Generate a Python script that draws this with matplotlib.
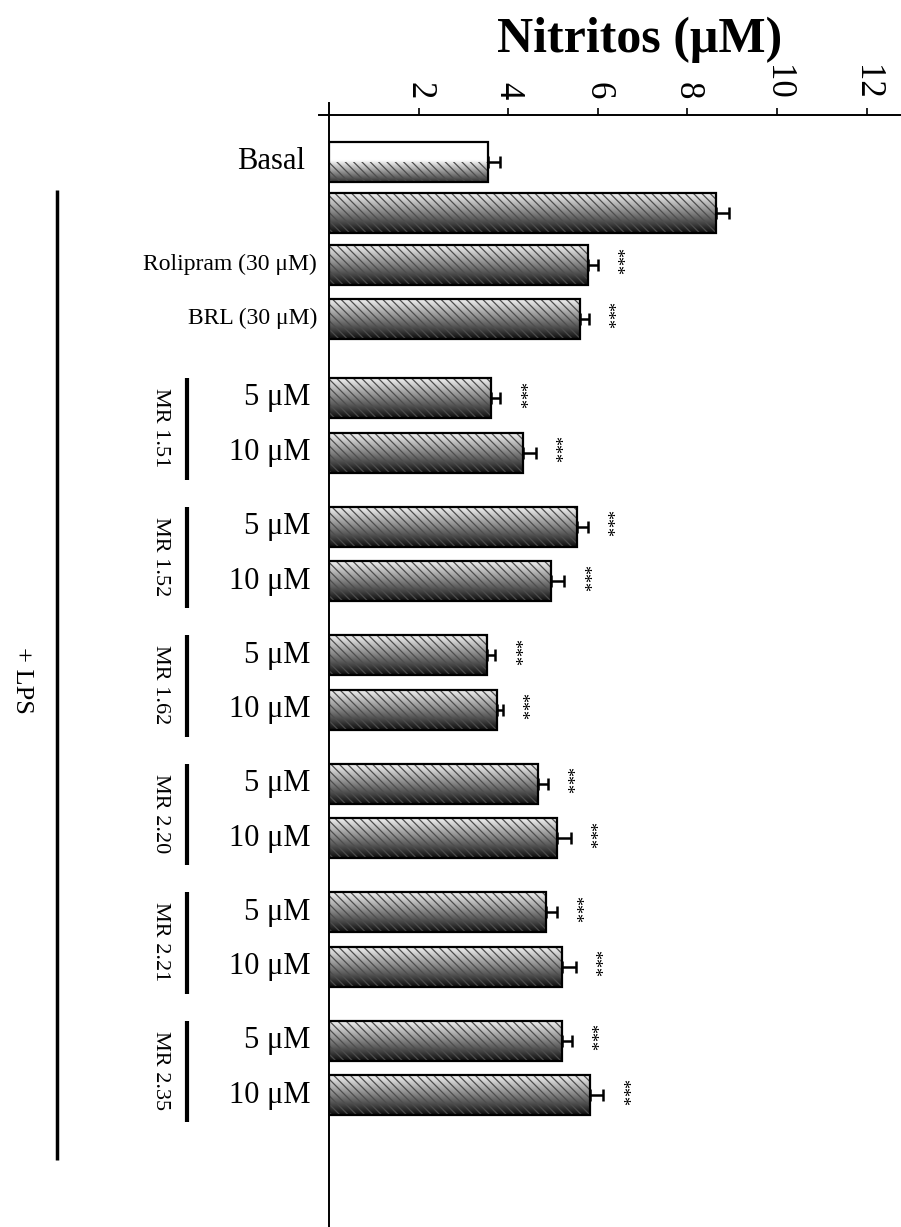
import numpy as np
import matplotlib
matplotlib.use("Agg")
import matplotlib.pyplot as plt
from matplotlib.patches import Rectangle

plt.rcParams["font.family"] = ["Liberation Serif", "DejaVu Serif"]
plt.rcParams["hatch.linewidth"] = 0.9

# Controls (no LPS / LPS / reference inhibitors)
ctrl_labels = ["Basal", "", "Rolipram (30 μM)", "BRL (30 μM)"]
ctrl_values = [3.55, 8.63, 5.78, 5.60]
ctrl_errors = [0.27, 0.30, 0.22, 0.20]
ctrl_sig = ["", "", "***", "***"]

# Compounds, two doses each
compounds = ["MR 1.51", "MR 1.52", "MR 1.62", "MR 2.20", "MR 2.21", "MR 2.35"]
doses = ["5 μM", "10 μM"]
values_5 = [3.62, 5.53, 3.53, 4.67, 4.84, 5.20]
errors_5 = [0.20, 0.25, 0.18, 0.22, 0.25, 0.22]
values_10 = [4.34, 4.96, 3.75, 5.09, 5.20, 5.83]
errors_10 = [0.27, 0.29, 0.13, 0.31, 0.31, 0.29]
comp_sig = "***"

xticks = [2, 4, 6, 8, 10, 12]

# layout of bar slots (rows, top to bottom)
ctrl_pos = [0, 0.95, 1.9, 2.9]
group_start = 4.37
group_step = 2.38
bar_h = 0.74

fig = plt.figure(figsize=(9.01, 12.27), dpi=100)
ax = fig.add_axes([329 / 901, 0, 1 - 329 / 901, 1 - 115 / 1227])
ax.set_xlim(0, (901 - 329) / 44.8)
ax.set_ylim(19.72, -0.87)


def gradient_bar(y, w, light=False):
    # halftone-like fill: light at the top, dark at the bottom
    n = 64
    t = np.linspace(0, 1, n)[:, None]
    if light:
        g = np.where(t < 0.45, 1.0, 1.0 - (t - 0.45) / 0.55 * 0.8)
    else:
        g = 0.95 - t * 0.9
    rect = Rectangle((0, y - bar_h / 2), w, bar_h, facecolor="none",
                     edgecolor="none")
    ax.add_patch(rect)
    im = ax.imshow(np.repeat(g, 2, axis=1), cmap="gray", vmin=0, vmax=1,
                   extent=[0, w, y + bar_h / 2, y - bar_h / 2],
                   aspect="auto", interpolation="bilinear", zorder=2)
    im.set_clip_path(rect)
    if light:
        # hatch only on the lower half
        ax.barh(y + bar_h / 4, w, height=bar_h / 2, left=0, facecolor="none",
                edgecolor="0.3", hatch="\\\\\\\\", linewidth=0, zorder=3)
    else:
        ax.barh(y, w, height=bar_h, left=0, facecolor="none",
                edgecolor="0.3", hatch="\\\\\\\\", linewidth=0, zorder=3)
    ax.barh(y, w, height=bar_h, left=0, fill=False,
            edgecolor="black", linewidth=1.6, zorder=4)


def err_and_stars(y, v, e, sig):
    ax.errorbar(v, y, xerr=[[0], [e]], fmt="none", ecolor="black",
                elinewidth=1.8, capsize=4, capthick=1.8, zorder=5)
    if sig:
        ax.text(v + e + 0.38, y - 0.05, sig, rotation=-90, fontsize=13,
                ha="center", va="center", zorder=5)


# control bars
for i, (lab, v, e, s) in enumerate(zip(ctrl_labels, ctrl_values,
                                       ctrl_errors, ctrl_sig)):
    y = ctrl_pos[i]
    gradient_bar(y, v, light=(i == 0))
    err_and_stars(y, v, e, s)
    if lab:
        size = 22 if i == 0 else 17
        xr = -0.54 if i == 0 else -0.27
        ax.text(xr, y, lab, fontsize=size, ha="right", va="center",
                clip_on=False)

# compound bars
for k, name in enumerate(compounds):
    y5 = group_start + k * group_step
    y10 = y5 + 1.01
    for y, v, e in [(y5, values_5[k], errors_5[k]),
                    (y10, values_10[k], errors_10[k])]:
        gradient_bar(y, v)
        err_and_stars(y, v, e, comp_sig)
    ax.text(-0.42, y5, doses[0], fontsize=22, ha="right", va="center",
            clip_on=False)
    ax.text(-0.42, y10, doses[1], fontsize=22, ha="right", va="center",
            clip_on=False)
    ax.plot([-3.17, -3.17], [y5 - 0.37, y10 + 0.5], color="black",
            lw=3, clip_on=False, solid_capstyle="butt")
    ax.text(-3.75, (y5 + y10) / 2 + 0.05, name, fontsize=16, rotation=-90,
            ha="center", va="center", clip_on=False)

# +LPS bracket
ax.plot([-6.07, -6.07], [0.52, 18.48], color="black", lw=2.5,
        clip_on=False, solid_capstyle="butt")
ax.text(-6.85, 9.6, "+ LPS", fontsize=19, rotation=-90, ha="center",
        va="center", clip_on=False)

# axes: top x axis, left spine only, crossing a little at the origin
ax.spines["right"].set_visible(False)
ax.spines["bottom"].set_visible(False)
ax.spines["top"].set_linewidth(1.4)
ax.spines["left"].set_linewidth(1.4)
ax.plot([-0.018, 0], [1, 1], transform=ax.transAxes, color="black",
        lw=1.4, clip_on=False)
ax.plot([0, 0], [1, 1.011], transform=ax.transAxes, color="black",
        lw=1.4, clip_on=False)
ax.xaxis.tick_top()
ax.set_xticks(xticks)
ax.set_xticklabels([str(t) for t in xticks], rotation=-90, fontsize=25)
ax.tick_params(axis="x", direction="out", length=5, width=1.2, pad=6)
ax.set_yticks([])

fig.text(640 / 901, 1 - 40 / 1227, "Nitritos (μM)", fontsize=36,
         fontweight="bold", ha="center", va="center")

fig.savefig("out.png", dpi=100)
